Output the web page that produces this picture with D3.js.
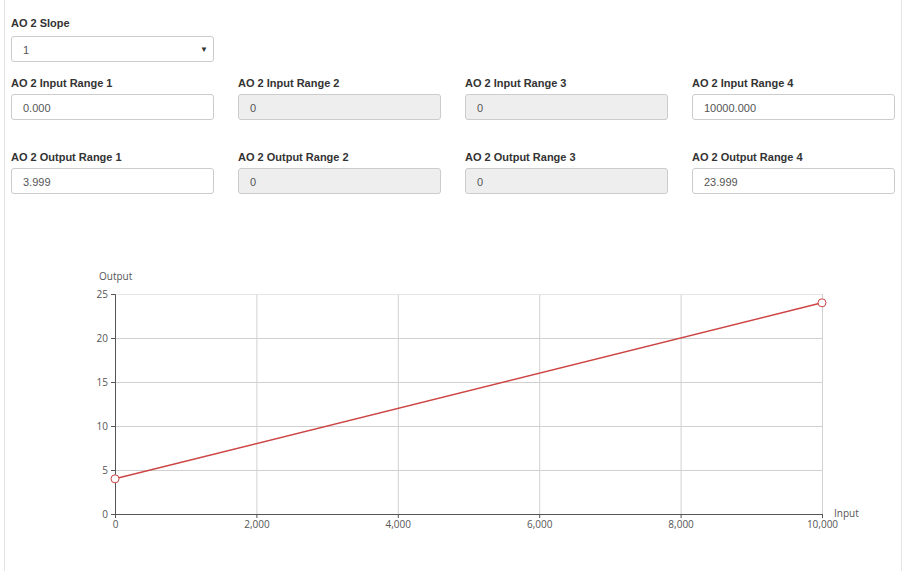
<!DOCTYPE html>
<html><head><meta charset="utf-8">
<script src="https://cdn.jsdelivr.net/npm/d3@7"></script>
<style>
body{margin:0;background:#fff;font-family:"Liberation Sans",Arial,sans-serif;}
#page{position:absolute;left:4px;top:0;width:896px;height:571px;border-left:1px solid #e3e3e3;border-right:1px solid #e3e3e3;}
.lbl{position:absolute;font-weight:bold;font-size:11px;color:#333;}
.box{position:absolute;width:201px;height:24px;border:1px solid #ccc;border-radius:3px;font-size:11px;color:#555;line-height:26px;box-sizing:content-box;}
.box span{position:absolute;left:11px;}
.dis{background:#eee;}
.arrow{position:absolute;right:6px;top:0;font-size:8px;color:#333;}
svg{position:absolute;left:0;top:0;}
</style></head>
<body>
<div id="page"></div>
<svg id="chart" width="902" height="571"></svg>
<script>
const slopeLabel = "AO 2 Slope";
const slopeValue = "1";
const inputLabels = ["AO 2 Input Range 1","AO 2 Input Range 2","AO 2 Input Range 3","AO 2 Input Range 4"];
const inputValues = ["0.000","0","0","10000.000"];
const outputLabels = ["AO 2 Output Range 1","AO 2 Output Range 2","AO 2 Output Range 3","AO 2 Output Range 4"];
const outputValues = ["3.999","0","0","23.999"];
const disabled = [false,true,true,false];
const pointsX = [0, 10000];
const pointsY = [3.999, 23.999];
const xTicks = [0,2000,4000,6000,8000,10000];
const yTicks = [0,5,10,15,20,25];

const body = d3.select("body");
function label(x,y,t){ body.append("div").attr("class","lbl").style("left",x+"px").style("top",y+"px").text(t); }
function box(x,y,t,dis){
  const b = body.append("div").attr("class","box"+(dis?" dis":"")).style("left",x+"px").style("top",y+"px");
  b.append("span").text(t);
  return b;
}
label(11,17,slopeLabel);
const sel = box(11,36,slopeValue,false);
sel.append("span").attr("class","arrow").style("left","auto").style("right","5px").text("▼");
const cols = [11,238,465,692];
cols.forEach((x,i)=>{
  label(x,77,inputLabels[i]); box(x,94,inputValues[i],disabled[i]);
  label(x,151,outputLabels[i]); box(x,168,outputValues[i],disabled[i]);
});

const svg = d3.select("#chart");
const x = d3.scaleLinear().domain([0,10000]).range([115,822]);
const y = d3.scaleLinear().domain([0,25]).range([514,294]);
const font = "'Open Sans', sans-serif";
// grid
svg.append("g").selectAll("line").data(xTicks.slice(1)).join("line")
  .attr("x1",d=>x(d)+0.5).attr("x2",d=>x(d)+0.5).attr("y1",y(25)).attr("y2",y(0))
  .attr("stroke","#d0d0d0");
svg.append("g").selectAll("line").data(yTicks.slice(1)).join("line")
  .attr("x1",x(0)).attr("x2",x(10000)).attr("y1",d=>y(d)+0.5).attr("y2",d=>y(d)+0.5)
  .attr("stroke",(d)=>d===25?"#e6e6e6":"#d0d0d0");
const xa = svg.append("g").attr("transform",`translate(0,${y(0)})`)
  .call(d3.axisBottom(x).tickValues(xTicks).tickFormat(d3.format(",")).tickSizeOuter(0).tickSize(4));
const ya = svg.append("g").attr("transform",`translate(${x(0)},0)`)
  .call(d3.axisLeft(y).tickValues(yTicks).tickSizeOuter(0).tickSize(4));
[xa,ya].forEach(a=>{
  a.select(".domain").attr("stroke","#555");
  a.selectAll(".tick line").attr("stroke","#555");
  a.selectAll("text").attr("fill","#555").style("font-family",font).style("font-size","10px");
});
svg.append("text").attr("x",99).attr("y",280).attr("fill","#555").style("font-family",font).style("font-size","10px").text("Output");
svg.append("text").attr("x",834).attr("y",517).attr("fill","#555").style("font-family",font).style("font-size","10px").text("Input");
const pts = pointsX.map((v,i)=>[v,pointsY[i]]);
svg.append("path").datum(pts).attr("fill","none").attr("stroke","#cc4444").attr("stroke-width",1.5)
  .attr("d",d3.line().x(d=>x(d[0])).y(d=>y(d[1])));
svg.append("g").selectAll("circle").data(pts).join("circle")
  .attr("cx",d=>x(d[0])).attr("cy",d=>y(d[1])).attr("r",4)
  .attr("fill","#fff").attr("stroke","#cc4444").attr("stroke-width",1);
</script>
</body></html>
